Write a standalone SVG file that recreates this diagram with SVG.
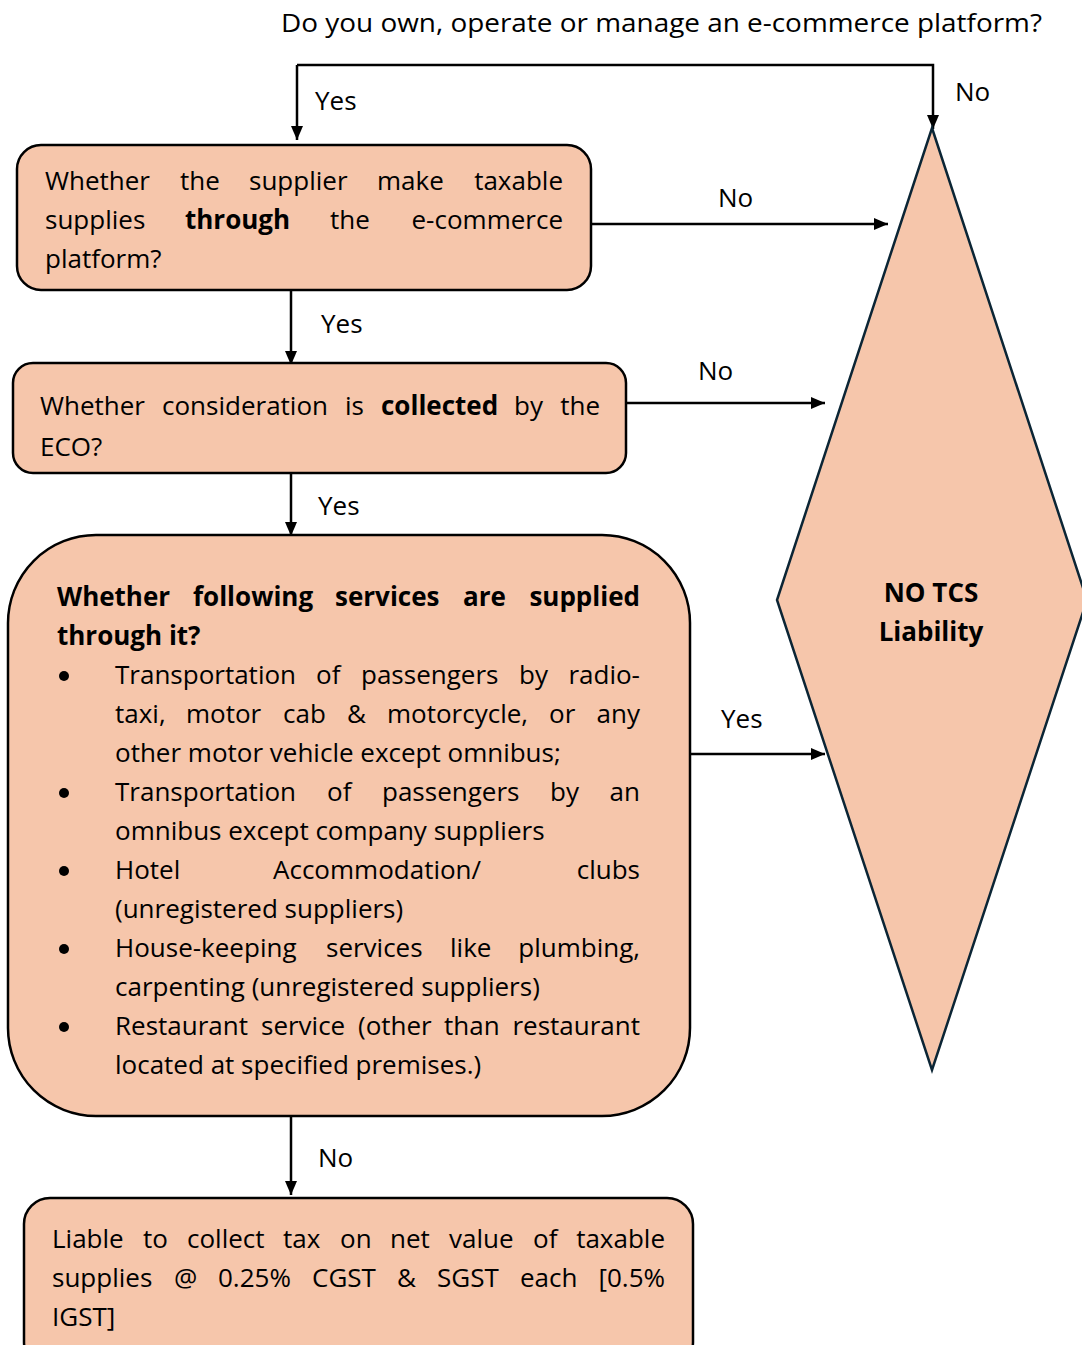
<svg xmlns="http://www.w3.org/2000/svg" width="1082" height="1345" viewBox="0 0 1082 1345">
<style>
  text { font-family: "Open Sans", "Noto Sans", "DejaVu Sans", sans-serif; font-size: 26px; fill: #000; }
  .b { font-weight: bold; }
  .box { fill: #F6C6AB; stroke: #000; stroke-width: 2.5; }
  .dia { fill: #F6C6AB; stroke: #0B2535; stroke-width: 2.5; }
  .ln { fill: none; stroke: #000; stroke-width: 2.5; }
</style>
<defs>
  <marker id="ah" viewBox="0 0 14 12" refX="14" refY="6" markerWidth="14" markerHeight="12" markerUnits="userSpaceOnUse" orient="auto">
    <path d="M0,0 L14,6 L0,12 Z" fill="#000"/>
  </marker>
</defs>

<text id="question" x="281" y="32" textLength="761" lengthAdjust="spacingAndGlyphs">Do you own, operate or manage an e-commerce platform?</text>

<g id="connectors">
  <polyline class="ln" points="297,65 933,65 933,129" marker-end="url(#ah)"/>
  <polyline class="ln" points="297,65 297,140" marker-end="url(#ah)"/>
  <line class="ln" x1="591" y1="224" x2="888" y2="224" marker-end="url(#ah)"/>
  <line class="ln" x1="291" y1="290" x2="291" y2="365" marker-end="url(#ah)"/>
  <line class="ln" x1="626" y1="403" x2="825" y2="403" marker-end="url(#ah)"/>
  <line class="ln" x1="291" y1="473" x2="291" y2="536" marker-end="url(#ah)"/>
  <line class="ln" x1="690" y1="754" x2="825" y2="754" marker-end="url(#ah)"/>
  <line class="ln" x1="291" y1="1116" x2="291" y2="1195" marker-end="url(#ah)"/>
  <text x="315" y="110">Yes</text>
  <text x="955" y="101">No</text>
  <text x="718" y="207">No</text>
  <text x="321" y="333">Yes</text>
  <text x="698" y="380">No</text>
  <text x="318" y="515">Yes</text>
  <text x="721" y="728">Yes</text>
  <text x="318" y="1167">No</text>
</g>

<g id="noTcs">
  <polygon class="dia" points="932,128 1087,600 932,1070 777,600"/>
  <text class="b" x="931" y="602" text-anchor="middle">NO TCS</text>
  <text class="b" x="931" y="641" text-anchor="middle">Liability</text>
</g>

<g id="supplierThrough">
  <rect class="box" x="17" y="145" width="574" height="145" rx="24"/>
  <text y="190"><tspan x="45">Whether</tspan><tspan x="180">the</tspan><tspan x="249">supplier</tspan><tspan x="377">make</tspan><tspan x="563" text-anchor="end">taxable</tspan></text>
  <text y="229"><tspan x="45">supplies</tspan><tspan x="185" class="b">through</tspan><tspan x="330">the</tspan><tspan x="563" text-anchor="end">e-commerce</tspan></text>
  <text x="45" y="268">platform?</text>
</g>

<g id="considerationCollected">
  <rect class="box" x="13" y="363" width="613" height="110" rx="20"/>
  <text y="415"><tspan x="40">Whether</tspan><tspan x="162">consideration</tspan><tspan x="345">is</tspan><tspan x="381" class="b">collected</tspan><tspan x="514">by</tspan><tspan x="600" text-anchor="end">the</tspan></text>
  <text x="40" y="456">ECO?</text>
</g>

<g id="servicesSupplied">
  <rect class="box" x="8" y="535" width="682" height="581" rx="88"/>
  <text class="b" y="606"><tspan x="57">Whether</tspan><tspan x="193">following</tspan><tspan x="335">services</tspan><tspan x="463">are</tspan><tspan x="640" text-anchor="end">supplied</tspan></text>
  <text class="b" x="57" y="645">through it?</text>
  <g id="bullets">
    <circle cx="64" cy="676" r="5"/>
    <circle cx="64" cy="793" r="5"/>
    <circle cx="64" cy="871" r="5"/>
    <circle cx="64" cy="949" r="5"/>
    <circle cx="64" cy="1027" r="5"/>
  </g>
  <text y="684"><tspan x="115">Transportation</tspan><tspan x="316">of</tspan><tspan x="361">passengers</tspan><tspan x="519">by</tspan><tspan x="640" text-anchor="end">radio-</tspan></text>
  <text y="723"><tspan x="115">taxi,</tspan><tspan x="186">motor</tspan><tspan x="283">cab</tspan><tspan x="347">&amp;</tspan><tspan x="387">motorcycle,</tspan><tspan x="549">or</tspan><tspan x="640" text-anchor="end">any</tspan></text>
  <text x="115" y="762">other motor vehicle except omnibus;</text>
  <text y="801"><tspan x="115">Transportation</tspan><tspan x="327">of</tspan><tspan x="382">passengers</tspan><tspan x="550">by</tspan><tspan x="640" text-anchor="end">an</tspan></text>
  <text x="115" y="840">omnibus except company suppliers</text>
  <text y="879"><tspan x="115">Hotel</tspan><tspan x="273">Accommodation/</tspan><tspan x="640" text-anchor="end">clubs</tspan></text>
  <text x="115" y="918">(unregistered suppliers)</text>
  <text y="957"><tspan x="115">House-keeping</tspan><tspan x="326">services</tspan><tspan x="450">like</tspan><tspan x="640" text-anchor="end">plumbing,</tspan></text>
  <text x="115" y="996">carpenting (unregistered suppliers)</text>
  <text y="1035"><tspan x="115">Restaurant</tspan><tspan x="261">service</tspan><tspan x="358">(other</tspan><tspan x="444">than</tspan><tspan x="640" text-anchor="end">restaurant</tspan></text>
  <text x="115" y="1074">located at specified premises.)</text>
</g>

<g id="liableCollect">
  <rect class="box" x="24" y="1198" width="669" height="170" rx="26"/>
  <text y="1248"><tspan x="52">Liable</tspan><tspan x="143">to</tspan><tspan x="187">collect</tspan><tspan x="283">tax</tspan><tspan x="340">on</tspan><tspan x="390">net</tspan><tspan x="449">value</tspan><tspan x="533">of</tspan><tspan x="665" text-anchor="end">taxable</tspan></text>
  <text y="1287"><tspan x="52">supplies</tspan><tspan x="174">@</tspan><tspan x="218">0.25%</tspan><tspan x="312">CGST</tspan><tspan x="397">&amp;</tspan><tspan x="437">SGST</tspan><tspan x="520">each</tspan><tspan x="665" text-anchor="end">[0.5%</tspan></text>
  <text x="52" y="1326">IGST]</text>
</g>
</svg>
